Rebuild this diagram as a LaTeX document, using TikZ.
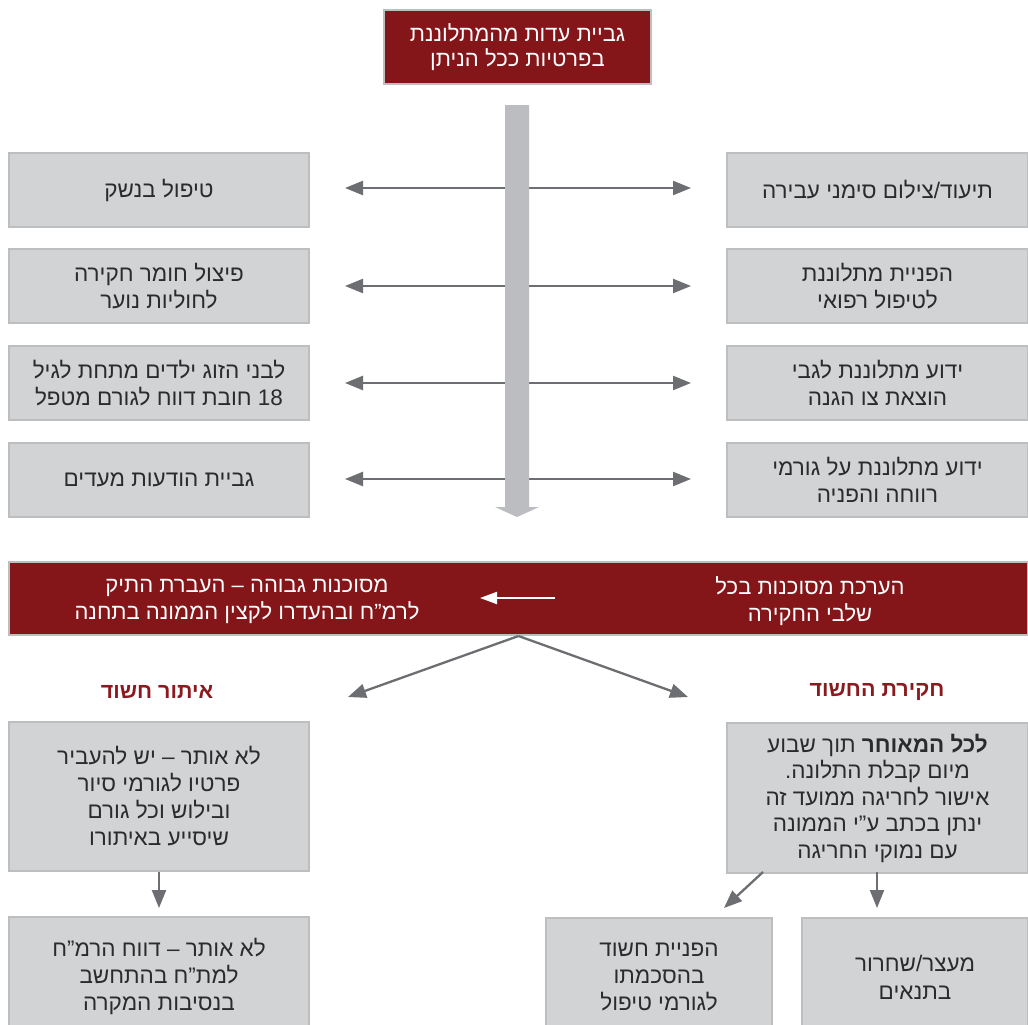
\documentclass[tikz,border=0pt]{standalone}
\usepackage{fontspec}
\setmainfont{Liberation Sans}
\newfontfamily\heb[Script=Hebrew]{Liberation Sans}
\TeXXeTstate=1
\usetikzlibrary{arrows.meta,calc}
\newcommand\RL[1]{\beginR #1\endR}
\definecolor{dred}{HTML}{84161A}
\definecolor{hred}{HTML}{8B1A1F}
\definecolor{boxg}{HTML}{D2D3D5}
\definecolor{bord}{HTML}{BDBEC0}
\definecolor{arrg}{HTML}{6D6E71}
\definecolor{barg}{HTML}{BCBDC0}
\definecolor{txt}{HTML}{2B2B2B}
\begin{document}
\begin{tikzpicture}[x=1pt,y=-1pt,
  gbox/.style={draw=bord, line width=2pt, fill=boxg, text=txt, align=center, inner sep=0pt, anchor=north west, font=\heb\fontsize{22.5}{27.5}\selectfont},
  rbox/.style={gbox, fill=dred, text=white, font=\heb\fontsize{22}{25}\selectfont},
  btxt/.style={text=white, align=center, inner sep=0pt, font=\heb\fontsize{22}{27}\selectfont},
  head/.style={text=hred, inner sep=0pt, font=\heb\bfseries\fontsize{21.5}{24}\selectfont},
  arr/.style={draw=arrg, line width=2.3pt, -{Triangle[length=18pt,width=14pt]}},
  warr/.style={draw=white, line width=2pt, -{Triangle[length=17pt,width=12pt]}}]
\useasboundingbox (0,0) rectangle (1028,1025);
\fill[white] (0,0) rectangle (1028,1025);

% top box
\node[rbox, minimum width=267pt, minimum height=74pt] (top) at (383,9) {\RL{גביית עדות מהמתלוננת}\\\RL{בפרטיות ככל הניתן}};

% left column
\node[gbox, minimum width=300pt, minimum height=74pt] (l1) at (8,152) {\RL{טיפול בנשק}};
\node[gbox, minimum width=300pt, minimum height=74pt] (l2) at (8,248) {\RL{פיצול חומר חקירה}\\\RL{לחוליות נוער}};
\node[gbox, minimum width=300pt, minimum height=74pt] (l3) at (8,345) {\RL{לבני הזוג ילדים מתחת לגיל}\\\RL{\beginL 18\endL{} חובת דווח לגורם מטפל}};
\node[gbox, minimum width=300pt, minimum height=74pt] (l4) at (8,442) {\RL{גביית הודעות מעדים}};

% right column
\node[gbox, minimum width=301pt, minimum height=74pt] (r1) at (726,152) {\RL{תיעוד/צילום סימני עבירה}};
\node[gbox, minimum width=301pt, minimum height=74pt] (r2) at (726,248) {\RL{הפניית מתלוננת}\\\RL{לטיפול רפואי}};
\node[gbox, minimum width=301pt, minimum height=74pt] (r3) at (726,345) {\RL{ידוע מתלוננת לגבי}\\\RL{הוצאת צו הגנה}};
\node[gbox, minimum width=301pt, minimum height=74pt] (r4) at (726,442) {\RL{ידוע מתלוננת על גורמי}\\\RL{רווחה והפניה}};

% horizontal arrows
\foreach \i/\y in {1/188,2/286,3/383,4/479}{
  \coordinate (c\i) at (517,\y);
  \coordinate (tl\i) at ($(l\i.east |- c\i)+(35,0)$);
  \coordinate (tr\i) at ($(r\i.west |- c\i)+(-35,0)$);
  \draw[arr] (c\i) -- (tl\i);
  \draw[arr] (c\i) -- (tr\i);
}

% central bar
\fill[barg] (505,105) -- (529,105) -- (529,507) -- (539,507) -- (517,517) -- (495,507) -- (505,507) -- cycle;

% band
\node[rbox, minimum width=1019pt, minimum height=73pt] (band) at (8,561) {};
\node[btxt] (bandL) at (247,601) {\RL{מסוכנות גבוהה – העברת התיק}\\\RL{לרמ”ח ובהעדרו לקצין הממונה בתחנה}};
\node[btxt] (bandR) at (810,601) {\RL{הערכת מסוכנות בכל}\\\RL{שלבי החקירה}};
\coordinate (wa) at (555,598);
\coordinate (wb) at (480,598);
\draw[warr] (wa) -- (wb);

% headings
\node[head] (hl) at (157,692) {\RL{איתור חשוד}};
\node[head] (hr) at (877,692) {\RL{חקירת החשוד}};
\coordinate (al) at (348,697);
\coordinate (ar) at (688,697);
\draw[arr] (band.south) -- (al);
\draw[arr] (band.south) -- (ar);

% lower left
\node[gbox, minimum width=300pt, minimum height=149pt, font=\heb\fontsize{22.5}{27}\selectfont] (lb1) at (8,721) {\RL{לא אותר – יש להעביר}\\\RL{פרטיו לגורמי סיור}\\\RL{ובילוש וכל גורם}\\\RL{שיסייע באיתורו}};
\node[gbox, minimum width=300pt, minimum height=118pt, font=\heb\fontsize{22.5}{27}\selectfont] (lb2) at (8,916) {\RL{לא אותר – דווח הרמ”ח}\\\RL{למת”ח בהתחשב}\\\RL{בנסיבות המקרה}};
\coordinate (lbt) at ($(lb2.north)+(0,-8)$);
\draw[arr] (lb1.south) -- (lbt);

% lower right
\node[gbox, minimum width=301pt, minimum height=150pt, font=\heb\fontsize{22.5}{26.5}\selectfont] (rb1) at (726,722) {\RL{\textbf{לכל המאוחר} תוך שבוע}\\\RL{מיום קבלת התלונה.}\\\RL{אישור לחריגה ממועד זה}\\\RL{ינתן בכתב ע”י הממונה}\\\RL{עם נמוקי החריגה}};
\node[gbox, minimum width=226pt, minimum height=118pt, font=\heb\fontsize{22.5}{27}\selectfont] (rb2a) at (545,917) {\RL{הפניית חשוד}\\\RL{בהסכמתו}\\\RL{לגורמי טיפול}};
\node[gbox, minimum width=226pt, minimum height=118pt, font=\heb\fontsize{22.5}{28}\selectfont] (rb2b) at (801,917) {\RL{מעצר/שחרור}\\\RL{בתנאים}};
\coordinate (rs1) at (763,872);
\coordinate (rt1) at (724,908);
\coordinate (rs2) at (877,872);
\coordinate (rt2) at (877,908);
\draw[arr] (rs1) -- (rt1);
\draw[arr] (rs2) -- (rt2);
\end{tikzpicture}
\end{document}
